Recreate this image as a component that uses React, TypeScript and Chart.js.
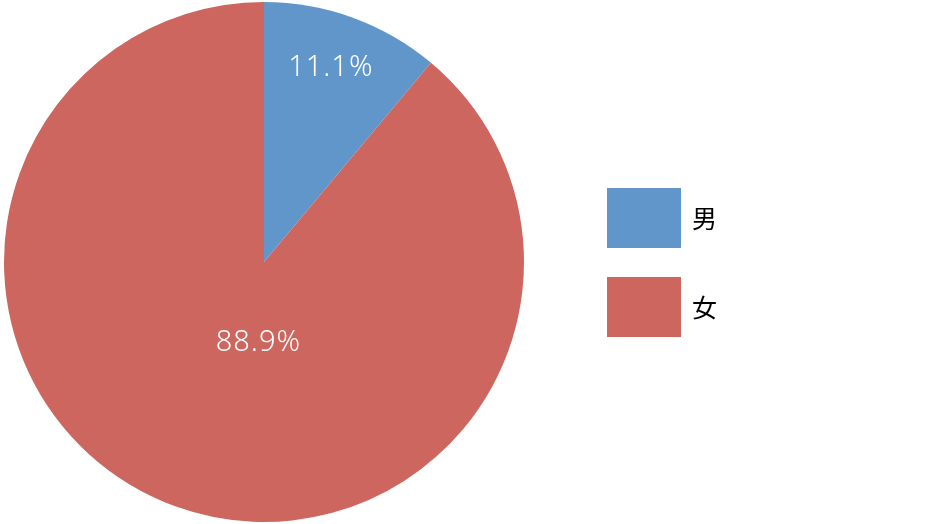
import React, { useEffect, useRef } from "react";
import { Chart, registerables } from "chart.js";

Chart.register(...registerables);

const categories = ["男", "女"];
const values = [11.1, 88.9];
const colors = ["#6196CA", "#CD665E"];
// label placement: radial fraction of radius and angle offset (deg) relative to slice mid
const labelRadius = [0.79, 0.31];
const labelAngleOffset = [-1, -16];

const labelPlugin = {
  id: "sliceLabels",
  afterDatasetsDraw(chart: any) {
    const ctx = chart.ctx;
    const meta = chart.getDatasetMeta(0);
    ctx.save();
    ctx.fillStyle = "#ffffff";
    ctx.font = "300 29px 'Noto Sans', 'Noto Sans CJK JP', sans-serif";
    try { (ctx as any).letterSpacing = "1px"; } catch (e) {}
    ctx.textAlign = "center";
    ctx.textBaseline = "middle";
    meta.data.forEach((arc: any, i: number) => {
      const mid = (arc.startAngle + arc.endAngle) / 2 + (labelAngleOffset[i] * Math.PI) / 180;
      const r = arc.outerRadius * labelRadius[i];
      const x = arc.x + Math.cos(mid) * r;
      const y = arc.y + Math.sin(mid) * r;
      ctx.fillText(values[i].toFixed(1) + "%", x, y);
    });
    ctx.restore();
  },
};

const legendPlugin = {
  id: "customLegend",
  afterDraw(chart: any) {
    const ctx = chart.ctx;
    ctx.save();
    ctx.font = "400 25px 'Noto Sans CJK JP', sans-serif";
    ctx.textBaseline = "middle";
    ctx.textAlign = "left";
    categories.forEach((c, i) => {
      const top = 188 + i * 89;
      ctx.fillStyle = colors[i];
      ctx.fillRect(607, top, 74, 60);
      ctx.fillStyle = "#000000";
      ctx.fillText(c, 692, top + 30);
    });
    ctx.restore();
  },
};

export default function App() {
  const ref = useRef<HTMLCanvasElement>(null);
  useEffect(() => {
    document.body.style.margin = "0";
    const chart = new Chart(ref.current!, {
      type: "pie",
      data: {
        labels: categories,
        datasets: [
          {
            data: values,
            backgroundColor: colors,
            borderWidth: 0,
          },
        ],
      },
      options: {
        responsive: false,
        animation: false,
        layout: { padding: { left: 4, top: 2, bottom: 2, right: 416 } },
        plugins: {
          legend: { display: false },
          tooltip: { enabled: false },
        },
      },
      plugins: [labelPlugin, legendPlugin],
    });
    return () => chart.destroy();
  }, []);
  return (
    <div style={{ width: 940, height: 524, background: "#fff" }}>
      <canvas ref={ref} width={940} height={524} />
    </div>
  );
}
